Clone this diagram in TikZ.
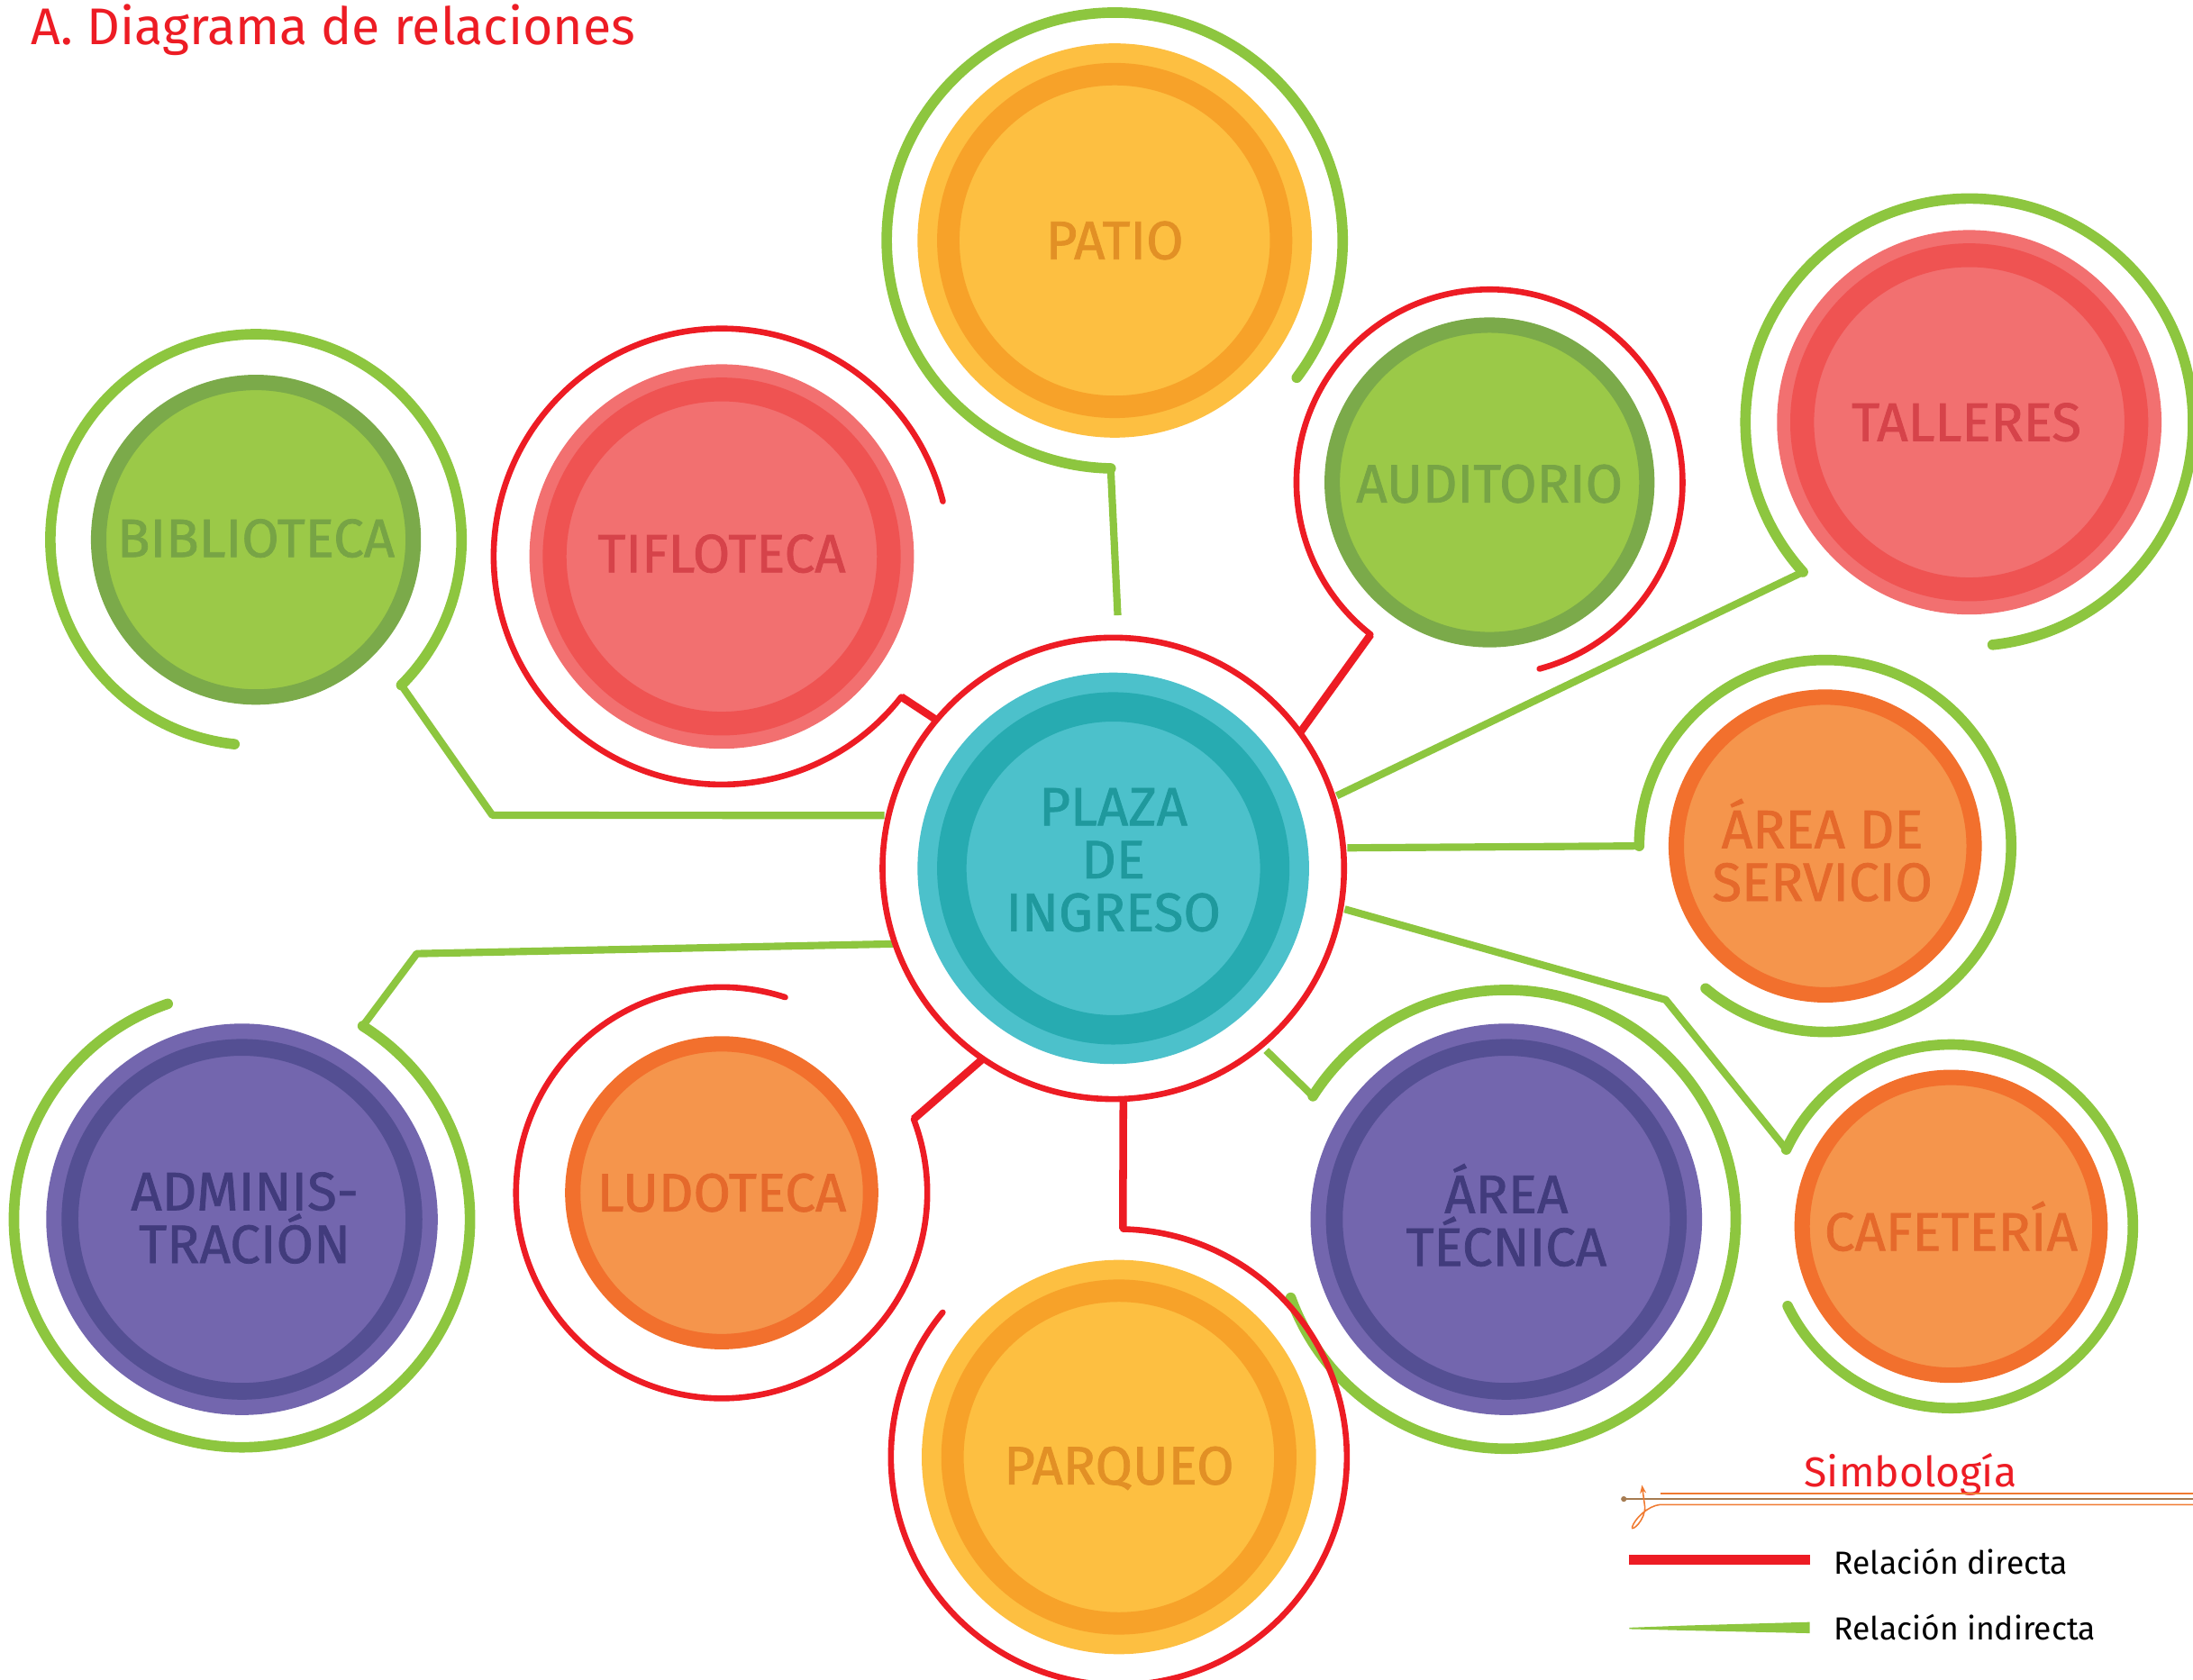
\documentclass[tikz,border=0pt]{standalone}
\usepackage{fontspec}
\setmainfont{Fira Sans}
\newfontfamily\roomfont{Fira Sans}[FakeBold=1.2]
\usetikzlibrary{calc,arrows.meta}

\definecolor{verde}{HTML}{8DC63F}
\definecolor{rojo}{HTML}{ED1C24}
\definecolor{amaA}{HTML}{FDBF41}\definecolor{amaB}{HTML}{F7A229}\definecolor{amaT}{HTML}{E29025}
\definecolor{rosA}{HTML}{F27070}\definecolor{rosB}{HTML}{EF5352}\definecolor{rosT}{HTML}{D6434A}
\definecolor{verA}{HTML}{9BC948}\definecolor{verB}{HTML}{7BAA4A}\definecolor{verT}{HTML}{77A445}
\definecolor{narA}{HTML}{F5954C}\definecolor{narB}{HTML}{F2702D}\definecolor{narT}{HTML}{E5692B}
\definecolor{morA}{HTML}{7366AE}\definecolor{morB}{HTML}{544F93}\definecolor{morT}{HTML}{413B7C}
\definecolor{turA}{HTML}{4CC1CB}\definecolor{turB}{HTML}{27ABB1}\definecolor{turT}{HTML}{1F999D}
\definecolor{marron}{HTML}{A67C52}\definecolor{naranjo}{HTML}{F07A30}

\tikzset{
  disc/.style={circle,inner sep=0pt},
  amadisc/.style={disc,minimum size=4.76cm,fill=amaA,draw=amaA,double=amaB,
                  line width=0.28cm,double distance=0.32cm},
  rosdisc/.style={disc,minimum size=4.78cm,fill=rosA,draw=rosA,double=rosB,
                  line width=0.19cm,double distance=0.34cm},
  verdisc/.style={disc,minimum size=4.5cm,fill=verA,draw=verB,line width=0.22cm},
  nardisc/.style={disc,minimum size=4.26cm,fill=narA,draw=narB,line width=0.22cm},
  mordisc/.style={disc,minimum size=4.92cm,fill=morA,draw=morA,double=morB,
                  line width=0.22cm,double distance=0.24cm},
  turdisc/.style={disc,minimum size=4.62cm,fill=turA,draw=turA,double=turB,
                  line width=0.28cm,double distance=0.42cm},
  roomtxt/.style={inner sep=0pt,align=center,font=\roomfont\fontsize{22}{21.5}\selectfont},
  verdelazo/.style={verde,line width=0.15cm,line cap=round},
  rojolazo/.style={rojo,line width=0.085cm,line cap=round},
  verdelink/.style={verde,line width=0.105cm,line join=round},
  rojolink/.style={rojo,line width=0.11cm,line join=round},
}

\begin{document}
\begin{tikzpicture}[x=0.02cm,y=0.02cm]
  \useasboundingbox (0,0) rectangle (1568,1201);
  \pgfmathsetmacro{\Rp}{165}

  % ---- title ------------------------------------------------------------
  \node[anchor=base west,text=rojo,inner sep=0pt,font=\fontsize{21}{21}\selectfont]
        (titulo) at (22,1169) {A. Diagrama de relaciones};

  % ---- spaces -----------------------------------------------------------
  \node[turdisc] (plaza)     at (796,580)  {};
  \node[amadisc] (patio)     at (797,1029) {};
  \node[amadisc] (parqueo)   at (800,159)  {};
  \node[verdisc] (biblio)    at (183,815)  {};
  \node[verdisc] (audit)     at (1065,856) {};
  \node[rosdisc] (tiflo)     at (516,803)  {};
  \node[rosdisc] (talleres)  at (1408,899) {};
  \node[nardisc] (servicio)  at (1305,596) {};
  \node[nardisc] (cafeteria) at (1395,324) {};
  \node[nardisc] (ludo)      at (516,348)  {};
  \node[mordisc] (tecnica)   at (1077,329) {};
  \node[mordisc] (admin)     at (173,329)  {};

  % ---- ends of the rings and of the links -------------------------------
  \coordinate (patio-a)     at ($(patio)+(-37:163)$);
  \coordinate (patio-b)     at ($(patio)+(-91:163)$);
  \coordinate (in-patio)    at ($(plaza)+(89:181)$);
  \coordinate (biblio-a)    at ($(biblio)+(-45:147)$);
  \coordinate (biblio-k)    at (352,618);
  \coordinate (in-biblio)   at ($(plaza)+(167:168)$);
  \coordinate (tiflo-a)     at ($(tiflo)+(14:163)$);
  \coordinate (tiflo-b)     at ($(tiflo)+(-38:163)$);
  \coordinate (in-tiflo)    at ($(plaza)+(140:\Rp)$);
  \coordinate (audit-a)     at ($(audit)+(-75:138)$);
  \coordinate (audit-b)     at ($(audit)+(232:138)$);
  \coordinate (in-audit)    at ($(plaza)+(36:\Rp)$);
  \coordinate (talleres-a)  at ($(talleres)+(-84:160)$);
  \coordinate (talleres-b)  at ($(talleres)+(222:160)$);
  \coordinate (in-talleres) at ($(plaza)+(18:168)$);
  \coordinate (servicio-a)  at ($(servicio)+(180:133)$);
  \coordinate (in-servicio) at ($(plaza)+(5:168)$);
  \coordinate (cafeteria-a) at ($(cafeteria)+(155:130)$);
  \coordinate (cafeteria-b) at ($(cafeteria)+(206:130)$);
  \coordinate (cafeteria-k) at (1191,486);
  \coordinate (in-cafeteria) at ($(plaza)+(-10:168)$);
  \coordinate (tecnica-a)   at ($(tecnica)+(147.5:164)$);
  \coordinate (tecnica-b)   at ($(tecnica)+(200:164)$);
  \coordinate (in-tecnica)  at ($(plaza)+(-50:170)$);
  \coordinate (admin-a)     at ($(admin)+(58:163)$);
  \coordinate (admin-b)     at ($(admin)+(109:163)$);
  \coordinate (admin-k)     at (298,519);
  \coordinate (in-admin)    at ($(plaza)+(199:166)$);
  \coordinate (ludo-a)      at ($(ludo)+(21:147)$);
  \coordinate (ludo-b)      at ($(ludo)+(72:147)$);
  \coordinate (in-ludo)     at ($(plaza)+(235.6:\Rp)$);
  \coordinate (parqueo-a)   at ($(parqueo)+(89:163)$);
  \coordinate (parqueo-b)   at ($(parqueo)+(140.6:163)$);
  \coordinate (in-parqueo)  at ($(plaza)+(-87.5:\Rp)$);

  % ---- indirect relations (green) ---------------------------------------
  \draw[verdelazo] (patio-a) arc[start angle=-37,end angle=269,radius=163];
  \draw[verdelink] (patio-b) -- (in-patio);
  \draw[verdelazo] (biblio-a) arc[start angle=-45,end angle=264,radius=147];
  \draw[verdelink] (biblio-a) -- (biblio-k) -- (in-biblio);
  \draw[verdelazo] (talleres-a) arc[start angle=-84,end angle=222,radius=160];
  \draw[verdelink] (talleres-b) -- (in-talleres);
  \draw[verdelazo] (servicio-a) arc[start angle=180,end angle=-130,radius=133];
  \draw[verdelink] (servicio-a) -- (in-servicio);
  \draw[verdelazo] (cafeteria-b) arc[start angle=206,end angle=515,radius=130];
  \draw[verdelink] (in-cafeteria) -- (cafeteria-k) -- (cafeteria-a);
  \draw[verdelazo] (tecnica-b) arc[start angle=200,end angle=507.5,radius=164];
  \draw[verdelink] (in-tecnica) -- (tecnica-a);
  \draw[verdelazo] (admin-b) arc[start angle=109,end angle=418,radius=163];
  \draw[verdelink] (admin-a) -- (admin-k) -- (in-admin);

  % ---- direct relations (red) -------------------------------------------
  \draw[rojolazo] (plaza) circle[radius=\Rp];
  \draw[rojolazo] (tiflo-a) arc[start angle=14,end angle=322,radius=163];
  \draw[rojolink] (tiflo-b) -- (in-tiflo);
  \draw[rojolazo] (audit-a) arc[start angle=-75,end angle=232,radius=138];
  \draw[rojolink] (audit-b) -- (in-audit);
  \draw[rojolazo] (ludo-b) arc[start angle=72,end angle=381,radius=147];
  \draw[rojolink] (ludo-a) -- (in-ludo);
  \draw[rojolazo] (parqueo-b) arc[start angle=140.6,end angle=449,radius=163];
  \draw[rojolink] (in-parqueo) -- (parqueo-a);

  % ---- names ------------------------------------------------------------
  \node[roomtxt,text=turT] (plaza-txt)     at (796,586)  {PLAZA\\DE\\INGRESO};
  \node[roomtxt,text=amaT] (patio-txt)     at (797,1029) {PATIO};
  \node[roomtxt,text=amaT] (parqueo-txt)   at (800,151)  {PARQUEO};
  \node[roomtxt,text=verT] (biblio-txt)    at (183,816)  {BIBLIOTECA};
  \node[roomtxt,text=verT] (audit-txt)     at (1065,855) {AUDITORIO};
  \node[roomtxt,text=rosT] (tiflo-txt)     at (516,805)  {TIFLOTECA};
  \node[roomtxt,text=rosT] (talleres-txt)  at (1406,899) {TALLERES};
  \node[roomtxt,text=narT] (servicio-txt)  at (1303,593) {ÁREA DE\\SERVICIO};
  \node[roomtxt,text=narT] (cafeteria-txt) at (1395,324) {CAFETERÍA};
  \node[roomtxt,text=narT] (ludo-txt)      at (516,348)  {LUDOTECA};
  \node[roomtxt,text=morT] (tecnica-txt)   at (1077,332) {ÁREA\\TÉCNICA};
  \node[roomtxt,text=morT] (admin-txt)     at (175,330)  {ADMINIS-\\TRACIÓN};

  % ---- legend -----------------------------------------------------------
  \node[anchor=base,text=rojo,inner sep=0pt,font=\fontsize{17}{17}\selectfont]
        (simbologia) at (1366,138) {Simbología};
  \draw[marron,line width=0.035cm] (1161,129) -- (1568,129);
  \fill[marron] (1161,129) circle[radius=2];
  \draw[naranjo,line width=0.02cm] (1187,133) -- (1568,133);
  \draw[naranjo,line width=0.02cm] (1568,125) -- (1187,125)
        .. controls (1178,124) and (1169,115) .. (1167,109)
        .. controls (1166,105) and (1177,114) .. (1176,124);
  \draw[naranjo,line width=0.02cm,-{Stealth[length=1.2mm]}] (1176,124) -- (1174,139);

  \fill[rojo] (1165,82) rectangle (1294,89);
  \node[anchor=base west,inner sep=0pt,font=\fontsize{13}{13}\selectfont]
        (ley-directa) at (1311,75) {Relación directa};
  \fill[verde] (1165,37) -- (1205,38.5) -- (1294,41) -- (1294,33)
               -- (1205,35) -- (1165,36) -- cycle;
  \node[anchor=base west,inner sep=0pt,font=\fontsize{13}{13}\selectfont]
        (ley-indirecta) at (1311,28) {Relación indirecta};
\end{tikzpicture}
\end{document}
